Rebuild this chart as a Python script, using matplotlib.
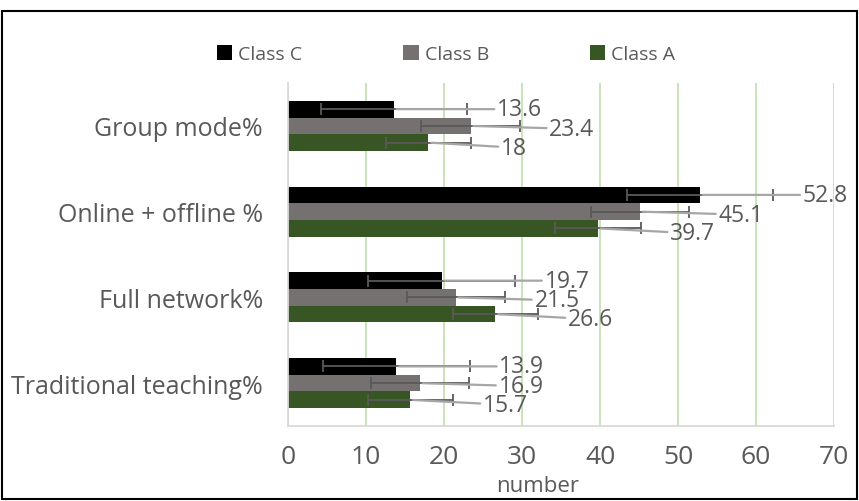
import numpy as np
from matplotlib import pyplot as plt
from matplotlib.patches import Rectangle

plt.rcParams['font.family'] = ['Open Sans', 'DejaVu Sans']

categories = ['Traditional teaching%', 'Full network%', 'Online + offline %', 'Group mode%']
class_a = [15.7, 26.6, 39.7, 18]
class_b = [16.9, 21.5, 45.1, 23.4]
class_c = [13.9, 19.7, 52.8, 13.6]
err_a, err_b, err_c = 5.5, 6.3, 9.4

text_col = '#595959'
fig = plt.figure(figsize=(8.59, 5.02), dpi=100)
ax = fig.add_axes([288/859, 1-427/502, (834-288)/859, (427-84)/502])

y = np.arange(len(categories))
h = 0.195
px = 1 / 85.75  # one pixel in y data units
series = [
    ('Class C', class_c, err_c, '#000000', h, 0),
    ('Class B', class_b, err_b, '#767171', 0, -3),
    ('Class A', class_a, err_a, '#375623', -h, -5),
]
for name, vals, e, col, off, dy in series:
    ax.barh(y + off, vals, height=h, color=col, label=name, zorder=2)
    ax.errorbar(vals, y + off, xerr=e, fmt='none', ecolor=text_col,
                elinewidth=1.3, capsize=4, capthick=1.3, zorder=3)
    for v, yy in zip(vals, y + off):
        ax.annotate(f'{v:g}', xy=(v, yy), xytext=(v + e + 3.8, yy + dy * px),
                    textcoords='data', xycoords='data',
                    fontsize=16.5, color=text_col, va='center', ha='left',
                    arrowprops=dict(arrowstyle='-', color='#a6a6a6', lw=1.6,
                                    shrinkA=0, shrinkB=2), zorder=4)

ax.set_xlim(0, 70)
ax.set_ylim(-0.5, 3.5)
ax.set_xticks(range(0, 71, 10))
ax.set_yticks(y)
ax.set_yticklabels(categories)
ax.tick_params(axis='both', length=0, colors=text_col)
ax.tick_params(axis='y', pad=18, labelsize=18)
ax.tick_params(axis='x', pad=13, labelsize=19)
ax.grid(axis='x', color='#c5e0b4', lw=1.3, zorder=0)
ax.set_axisbelow(True)
for s in ['top', 'right']:
    ax.spines[s].set_visible(False)
for s in ['left', 'bottom']:
    ax.spines[s].set_color('#d9d9d9')
    ax.spines[s].set_linewidth(1.3)
fig.text(538/859, 1 - 487/502, 'number', fontsize=16, color=text_col, ha='center', va='center')

ax.legend(loc='center', bbox_to_anchor=(446/859, 1 - 55/502), bbox_transform=fig.transFigure,
          ncol=3, frameon=False, fontsize=14, labelcolor=text_col,
          handlelength=0.8, handleheight=0.8, handletextpad=0.3, columnspacing=5.2)

fig.patches.append(Rectangle((2/859, 2/502), 855/859, 488/502, transform=fig.transFigure,
                             fill=False, edgecolor='black', lw=1.5))

fig.savefig('out.png', dpi=100)
